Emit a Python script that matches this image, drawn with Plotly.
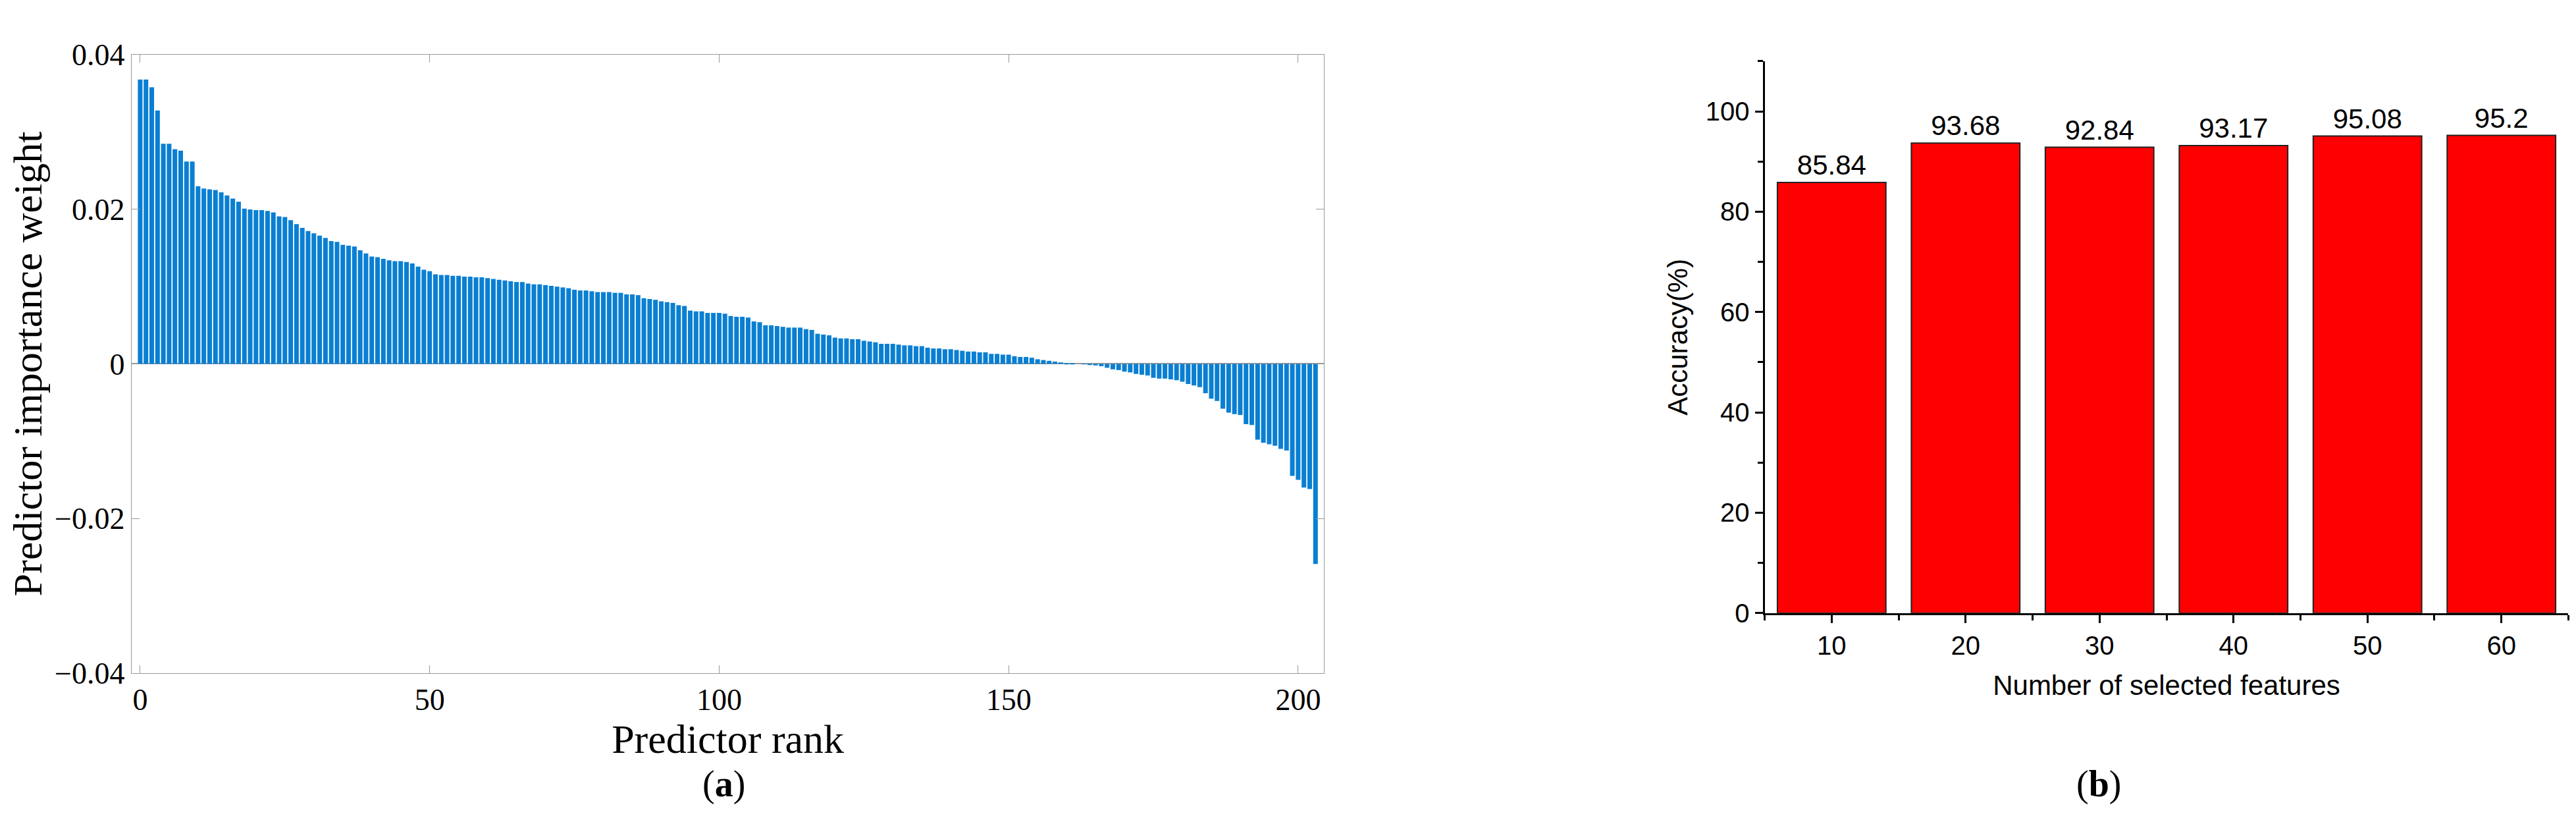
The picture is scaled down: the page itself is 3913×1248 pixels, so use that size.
import plotly.graph_objects as go

# Left panel data (values in units of 1e-3)
weights_milli = [
    36.8, 36.8, 35.8, 32.8, 28.5, 28.5, 27.8, 27.6, 26.2, 26.2,
    23.0, 22.7, 22.6, 22.5, 22.2, 21.8, 21.4, 21.0, 20.1, 20.0,
    19.9, 19.9, 19.8, 19.6, 19.1, 19.0, 18.6, 18.1, 17.6, 17.2,
    16.9, 16.6, 16.3, 15.9, 15.8, 15.4, 15.3, 15.2, 14.7, 14.3,
    13.9, 13.8, 13.6, 13.4, 13.3, 13.3, 13.2, 13.0, 12.6, 12.2,
    12.0, 11.6, 11.5, 11.5, 11.4, 11.4, 11.3, 11.3, 11.2, 11.2,
    11.1, 11.0, 10.9, 10.8, 10.7, 10.6, 10.6, 10.4, 10.3, 10.3,
    10.2, 10.1, 10.0, 9.9, 9.8, 9.6, 9.5, 9.5, 9.4, 9.3,
    9.3, 9.3, 9.2, 9.2, 9.0, 9.0, 8.9, 8.5, 8.4, 8.3,
    8.1, 8.0, 7.9, 7.6, 7.5, 6.9, 6.8, 6.8, 6.6, 6.6,
    6.6, 6.5, 6.2, 6.1, 6.1, 6.0, 5.5, 5.4, 5.0, 5.0,
    4.9, 4.8, 4.7, 4.7, 4.7, 4.5, 4.4, 3.9, 3.8, 3.7,
    3.4, 3.3, 3.3, 3.2, 3.2, 3.0, 2.9, 2.8, 2.6, 2.6,
    2.6, 2.5, 2.4, 2.4, 2.3, 2.3, 2.1, 2.0, 2.0, 1.9,
    1.9, 1.8, 1.7, 1.6, 1.6, 1.5, 1.5, 1.3, 1.3, 1.2,
    1.2, 1.0, 0.9, 0.9, 0.8, 0.6, 0.5, 0.4, 0.3, 0.2,
    0.1, 0.05, 0.0, -0.05, -0.1, -0.2, -0.3, -0.5, -0.7, -0.8,
    -1.0, -1.1, -1.3, -1.4, -1.5, -1.8, -1.9, -1.9, -2.0, -2.1,
    -2.3, -2.6, -2.8, -3.0, -3.8, -4.5, -4.8, -5.8, -6.3, -6.5,
    -6.6, -7.8, -7.9, -9.8, -10.2, -10.4, -10.6, -11.0, -11.2, -14.5,
    -15.0, -16.0, -16.2, -25.9,
]
ranks = list(range(len(weights_milli)))
weights = [v / 1000 for v in weights_milli]

# Right panel data
n_features = [10, 20, 30, 40, 50, 60]
accuracy = [85.84, 93.68, 92.84, 93.17, 95.08, 95.2]
acc_labels = ["85.84", "93.68", "92.84", "93.17", "95.08", "95.2"]

fig = go.Figure()
fig.add_trace(go.Bar(x=ranks, y=weights, marker=dict(color="#0a7fd2", line=dict(width=0)),
                     xaxis="x", yaxis="y", showlegend=False))
fig.add_trace(go.Bar(x=n_features, y=accuracy, width=8.1, text=acc_labels, textposition="outside",
                     textfont=dict(family="Liberation Sans", size=42, color="black"), cliponaxis=False,
                     marker=dict(color="#ff0000", line=dict(color="#222", width=2)),
                     xaxis="x2", yaxis="y2", showlegend=False))

serif = "Liberation Serif"
sans = "Liberation Sans"
fig.update_layout(
    width=3913, height=1248, margin=dict(l=0, r=0, t=0, b=0),
    paper_bgcolor="white", plot_bgcolor="white", bargap=0.2, uniformtext=dict(mode=False),
    xaxis=dict(domain=[0.049, 0.512], range=[-1.5, 204.5], tickvals=[0, 50, 100, 150, 200],
               ticks="inside", ticklen=12, tickcolor="#999", showline=True, linecolor="#999",
               mirror="ticks", showgrid=False, zeroline=False,
               tickfont=dict(family=serif, size=46, color="black"),
               title=dict(text="Predictor rank", font=dict(family=serif, size=62, color="black"), standoff=0)),
    yaxis=dict(domain=[0.174, 0.958], range=[-0.04, 0.04], tickvals=[-0.04, -0.02, 0, 0.02, 0.04],
               ticktext=["−0.04", "−0.02", "0", "0.02", "0.04"],
               ticks="inside", ticklen=12, tickcolor="#999", showline=True, linecolor="#999",
               mirror="ticks", showgrid=False, zeroline=True, zerolinecolor="#999", zerolinewidth=2,
               tickfont=dict(family=serif, size=46, color="black"),
               title=dict(text="Predictor importance weight", font=dict(family=serif, size=62, color="black"), standoff=0)),
    xaxis2=dict(domain=[0.683, 0.995], range=[5, 65], tickvals=n_features, anchor="y2",
                ticks="outside", ticklen=12, tickwidth=3, tickcolor="black",
                minor=dict(tickvals=[5, 15, 25, 35, 45, 55, 65], ticks="outside", ticklen=8, tickwidth=3, tickcolor="black"),
                showline=True, linecolor="black", linewidth=3, showgrid=False, zeroline=False,
                tickfont=dict(family=sans, size=40, color="black"),
                title=dict(text="Number of selected features", font=dict(family=sans, size=42, color="black"), standoff=25)),
    yaxis2=dict(domain=[0.25, 0.95], range=[0, 110], tickvals=[0, 20, 40, 60, 80, 100], anchor="x2",
                ticks="outside", ticklen=12, tickwidth=3, tickcolor="black",
                minor=dict(dtick=10, ticks="outside", ticklen=8, tickwidth=3, tickcolor="black"),
                showline=True, linecolor="black", linewidth=3, showgrid=False, zeroline=False,
                tickfont=dict(family=sans, size=40, color="black"),
                title=dict(text="Accuracy(%)", font=dict(family=sans, size=42, color="black"), standoff=15)),
    annotations=[
        dict(text="(<b>a</b>)", x=0.27, y=0.005, xref="paper", yref="paper", yanchor="bottom", showarrow=False,
             font=dict(family=serif, size=56, color="black")),
        dict(text="(<b>b</b>)", x=0.822, y=0.005, xref="paper", yref="paper", yanchor="bottom", showarrow=False,
             font=dict(family=serif, size=56, color="black")),
    ],
)
fig.write_html("out.html")
